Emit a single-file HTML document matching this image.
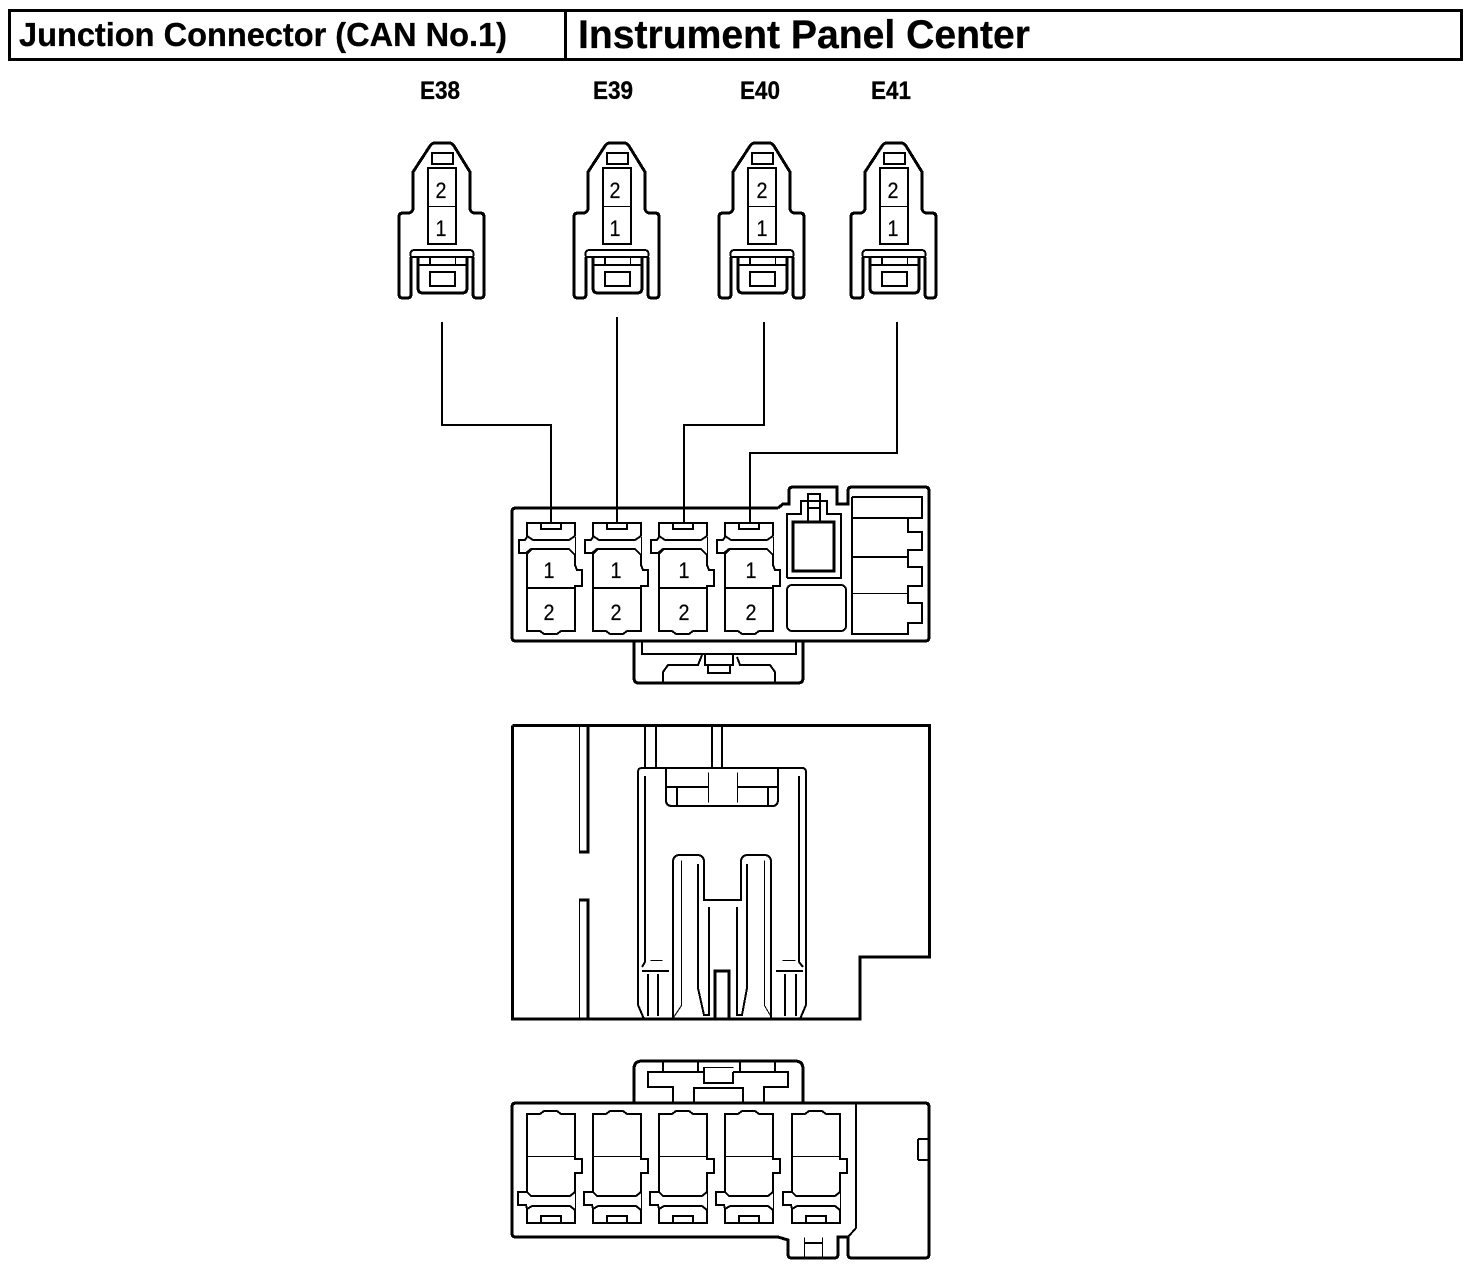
<!DOCTYPE html>
<html><head><meta charset="utf-8"><style>
html,body{margin:0;padding:0;background:#fff}
svg{display:block}
text{font-family:"Liberation Sans",sans-serif;fill:#000;stroke:#000;text-anchor:middle}
.h{font-weight:bold;text-anchor:start;stroke-width:.3}
.l{font-weight:bold;font-size:25px;stroke-width:.3}
.n{font-size:22px;stroke-width:.2}
path,rect{fill:none;stroke:#000;shape-rendering:crispEdges}
.k{stroke-width:3}
.m{stroke-width:2}
.t{stroke-width:1;transform:translate(.5px,.5px)}
</style></head><body>
<svg width="1472" height="1272" viewBox="0 0 1472 1272" xmlns="http://www.w3.org/2000/svg">
<defs>
<g id="conn">
<path class="k" d="M411 257V294Q411 298 407 298H403Q399 298 399 294V217Q399 213 403 213H409Q413 212 413 208V172L430 146Q432 143 435 143H449Q452 143 454 146L470 172V208Q470 212 474 213H480Q484 213 484 217V294Q484 298 480 298H477Q473 298 473 294V257"/>
<path class="m" d="M411 257Q409 250 415 250H469Q475 250 473 257H411"/>
<path class="k" d="M418 257V288Q418 293 423 293H462Q467 293 467 288V257"/>
<path class="m" d="M418 265H467M430 257V265"/>
<path class="t" d="M455 257V265"/>
<rect class="m" x="432" y="153" width="21" height="11"/>
<rect class="m" x="430" y="272" width="25" height="14"/>
<rect class="m" x="428" y="168" width="28" height="76"/>
<path class="t" d="M428 206H456"/>
</g>
<g id="top">
<path class="m" d="M527 537V523H575V536M541 523V529H561V523"/>
<path class="m" d="M527 537L525 540H519V553H526L531 549H569L575 555V565L577 570H582V586H575V631H561L557 634H544L540 631H527V554L532 549"/>
<path class="m" d="M527 536L533 540H569L575 536"/>
<path class="t" d="M575 536V555"/>
<path class="m" d="M527 588H575"/>
</g>
<g id="bot">
<path class="m" d="M527 1192V1114H540L544 1111H557L561 1114H575V1159H582V1173H575V1192L570 1196H531L527 1192H518V1205H526L527 1209V1223H575V1210L570 1206H532L527 1209"/>
<path class="t" d="M527 1156H575M575 1192V1210"/>
<path class="m" d="M541 1223V1216H561V1223"/>
</g>
</defs>

<!-- header -->
<rect class="k" x="9.5" y="10.5" width="1452" height="49"/>
<path class="k" d="M565.5 10V60"/>
<text class="h" x="19" y="46" font-size="33" textLength="488" lengthAdjust="spacingAndGlyphs">Junction Connector (CAN No.1)</text>
<text class="h" x="578" y="48" font-size="40" textLength="452" lengthAdjust="spacingAndGlyphs">Instrument Panel Center</text>
<text class="l" x="440" y="99" textLength="40" lengthAdjust="spacingAndGlyphs">E38</text>
<text class="l" x="613" y="99" textLength="40" lengthAdjust="spacingAndGlyphs">E39</text>
<text class="l" x="760" y="99" textLength="40" lengthAdjust="spacingAndGlyphs">E40</text>
<text class="l" x="891" y="99" textLength="40" lengthAdjust="spacingAndGlyphs">E41</text>

<!-- connectors -->
<use href="#conn"/>
<use href="#conn" x="175"/>
<use href="#conn" x="320"/>
<use href="#conn" x="452"/>
<text class="n" x="441" y="198" textLength="11" lengthAdjust="spacingAndGlyphs">2</text><text class="n" x="441" y="236" textLength="11" lengthAdjust="spacingAndGlyphs">1</text>
<text class="n" x="615" y="198" textLength="11" lengthAdjust="spacingAndGlyphs">2</text><text class="n" x="615" y="236" textLength="11" lengthAdjust="spacingAndGlyphs">1</text>
<text class="n" x="762" y="198" textLength="11" lengthAdjust="spacingAndGlyphs">2</text><text class="n" x="762" y="236" textLength="11" lengthAdjust="spacingAndGlyphs">1</text>
<text class="n" x="893" y="198" textLength="11" lengthAdjust="spacingAndGlyphs">2</text><text class="n" x="893" y="236" textLength="11" lengthAdjust="spacingAndGlyphs">1</text>

<!-- leaders -->
<path class="m" d="M442 322V425H551V523"/>
<path class="m" d="M617 317V523"/>
<path class="m" d="M764 322V425H684V523"/>
<path class="m" d="M897 322V453H750V523"/>

<!-- middle connector -->
<path class="k" d="M778 508H516Q512 508 512 512V637Q512 641 516 641H925Q929 641 929 637V491Q929 487 925 487H852Q848 487 848 491V504H837V487H793Q789 487 789 491V504H783L778 508"/>
<use href="#top"/><use href="#top" x="66"/><use href="#top" x="132"/><use href="#top" x="198"/>
<text class="n" x="549" y="578" textLength="11" lengthAdjust="spacingAndGlyphs">1</text><text class="n" x="549" y="620" textLength="11" lengthAdjust="spacingAndGlyphs">2</text>
<text class="n" x="616" y="578" textLength="11" lengthAdjust="spacingAndGlyphs">1</text><text class="n" x="616" y="620" textLength="11" lengthAdjust="spacingAndGlyphs">2</text>
<text class="n" x="684" y="578" textLength="11" lengthAdjust="spacingAndGlyphs">1</text><text class="n" x="684" y="620" textLength="11" lengthAdjust="spacingAndGlyphs">2</text>
<text class="n" x="751" y="578" textLength="11" lengthAdjust="spacingAndGlyphs">1</text><text class="n" x="751" y="620" textLength="11" lengthAdjust="spacingAndGlyphs">2</text>
<path class="m" d="M787 578V514H801V501H808V494H820V501H827V514H841V578H787"/>
<rect class="k" x="793" y="522" width="41" height="49"/>
<path class="m" d="M808 494V522M820 494V522M801 501H827M808 508H820"/>
<rect class="m" x="787" y="585" width="59" height="46" rx="5"/>
<path class="m" d="M852 497H922V518H908V532H922V550H908V567H922V586H908V603H922V623H908V634H852V497M852 518H908M852 557H908"/>
<path class="t" d="M852 593H908"/>
<path class="k" d="M634 641V678Q634 683 639 683H798Q803 683 803 678V641"/>
<path class="m" d="M642 641V654H796V641"/>
<path class="m" d="M702 655L698 665H668L663 672V683M737 657L740 665H770L775 672V683M705 655V665H733V655M708 665V673H730V665"/>

<!-- side view -->
<path class="k" d="M512.5 725.5H929.5V957H860V1019H512.5V725.5"/>
<path class="t" d="M579 725V852M579 900V1019"/>
<path class="k" d="M588 725V852H579M588 1019V900H579"/>
<path class="m" d="M645 725V768M656 725V768M712 725V768M722 725V768"/>
<path class="m" d="M638 1005V772Q638 768 642 768H802Q806 768 806 772V1005"/>
<path class="m" d="M645 776V962L642 967M799 776V962L803 967"/>
<path class="m" d="M666 768V800Q666 806 672 806H772Q778 806 778 800V768M666 787H708M737 787H778"/>
<path class="m" d="M677 787V806M768 787V806"/>
<path class="t" d="M708 772V802M737 772V802"/>
<path class="m" d="M673 1019V862Q673 855 680 855H697Q704 855 704 862V900H741V862Q741 855 748 855H764Q771 855 771 862V1019"/>
<path class="t" d="M681 860V1005L673 1017M764 860V1005L771 1017"/>
<path class="m" d="M698 864V988L704 1015H709V907M747 864V988L742 1015H737V907"/>
<path class="m" d="M638 1005L644 1019M806 1005L800 1019"/>
<path class="t" d="M650 960H662M782 960H795"/>
<path class="m" d="M642 971H669M776 971H803"/>
<path class="m" d="M648 974V1016M658 974V1016M785 974V1016M796 974V1016"/>
<path class="k" d="M715 1019V971H729V1019"/>

<!-- bottom connector -->
<path class="k" d="M634 1103V1069Q634 1061 642 1061H795Q803 1061 803 1069V1103"/>
<path class="k" d="M634 1103H516Q512 1103 512 1107V1233Q512 1237 516 1237H778L788 1240V1254Q788 1258 792 1258H834Q838 1258 838 1254V1237H848V1254Q848 1258 852 1258H925Q929 1258 929 1254V1107Q929 1103 925 1103H634"/>
<path class="m" d="M856 1103V1228L848 1237"/>
<path class="t" d="M804 1237V1258M822 1237V1258"/>
<path class="m" d="M804 1243H822"/>
<path class="m" d="M918 1139H929M918 1160H929M918 1139V1160"/>
<path class="m" d="M663 1061V1072M698 1061V1072M740 1061V1072M775 1061V1072"/>
<path class="m" d="M704 1072H648V1087H673V1103M694 1103V1088H743V1103M733 1072H788V1087H764V1103"/>
<path class="m" d="M704 1067V1083H733V1072"/>
<path class="t" d="M704 1067H733"/>
<use href="#bot"/><use href="#bot" x="66"/><use href="#bot" x="132"/><use href="#bot" x="198"/><use href="#bot" x="265"/>
</svg>
</body></html>
